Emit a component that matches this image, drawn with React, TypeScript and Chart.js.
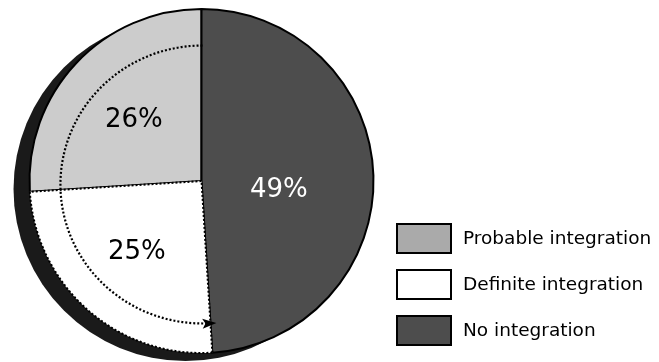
import React, { useEffect, useRef } from 'react';
import { Chart, registerables } from 'chart.js';

Chart.register(...registerables);

// ---- data (legend order) ----
const categories = ['Probable integration', 'Definite integration', 'No integration'];
const values = [26, 25, 49];
const sliceColors = ['#cccccc', '#ffffff', '#4d4d4d'];
const legendColors = ['#aaaaaa', '#ffffff', '#4d4d4d'];
const labelColors = ['#000000', '#000000', '#ffffff'];
// order in which slices are drawn clockwise, starting with the grey one
const drawOrder = [0, 2, 1];

const total = values.reduce((a, b) => a + b, 0);
const rotation = -(values[0] / total) * 360;

// ---- styling helpers (not data) ----
const labelRadius = [0.54, 0.56, 0.45];
const labelNudge: [number, number][] = [[0, 0], [-1, -4], [0, 8.5]];
const FONT = '"DejaVu Sans", Verdana, sans-serif';

const decorPlugin = {
  id: 'decor',
  beforeDatasetsDraw(chart: any) {
    const ctx = chart.ctx;
    const el = chart.getDatasetMeta(0).data[0];
    const { x, y, outerRadius } = el.getProps(['x', 'y', 'outerRadius'], true);
    ctx.save();
    ctx.fillStyle = '#1a1a1a';
    ctx.beginPath();
    ctx.arc(x - 16, y + 8, outerRadius, 0, Math.PI * 2);
    ctx.fill();
    ctx.restore();
  },
  afterDatasetsDraw(chart: any) {
    const ctx = chart.ctx;
    const meta = chart.getDatasetMeta(0);
    const noIdx = drawOrder.indexOf(2);
    const dark = meta.data[noIdx];
    const { x, y, outerRadius, startAngle, endAngle } = dark.getProps(
      ['x', 'y', 'outerRadius', 'startAngle', 'endAngle'], true);

    // dotted arc with arrow
    const cx = x + 1, cy = y + 3.5;
    const rx = outerRadius * 0.826, ry = outerRadius * 0.808;
    ctx.save();
    ctx.strokeStyle = '#000';
    ctx.lineWidth = 2.2;
    ctx.setLineDash([2, 2]);
    ctx.beginPath();
    ctx.ellipse(cx, cy, rx, ry, 0, startAngle, endAngle, true);
    ctx.stroke();
    ctx.setLineDash([]);
    const ex = cx + rx * Math.cos(endAngle);
    const ey = cy + ry * Math.sin(endAngle);
    let dx = rx * Math.sin(endAngle), dy = -ry * Math.cos(endAngle);
    const len = Math.hypot(dx, dy);
    dx /= len; dy /= len;
    const tx = ex + 5 * dx, ty = ey + 5 * dy;
    const bx = tx - 14 * dx, by = ty - 14 * dy;
    const nx = -dy, ny = dx;
    ctx.fillStyle = '#000';
    ctx.beginPath();
    ctx.moveTo(tx, ty);
    ctx.lineTo(bx + 5 * nx, by + 5 * ny);
    ctx.lineTo(bx + 3 * dx, by + 3 * dy);
    ctx.lineTo(bx - 5 * nx, by - 5 * ny);
    ctx.closePath();
    ctx.fill();

    // percentage labels
    ctx.font = `26px ${FONT}`;
    ctx.textAlign = 'center';
    ctx.textBaseline = 'alphabetic';
    meta.data.forEach((arc: any, i: number) => {
      const cat = drawOrder[i];
      const p = arc.getProps(['x', 'y', 'outerRadius', 'startAngle', 'endAngle'], true);
      const mid = (p.startAngle + p.endAngle) / 2;
      const r = p.outerRadius * labelRadius[cat];
      const lx = p.x + Math.cos(mid) * r + labelNudge[cat][0];
      const ly = p.y + Math.sin(mid) * r + labelNudge[cat][1];
      ctx.fillStyle = labelColors[cat];
      ctx.fillText(`${values[cat]}%`, lx, ly + 9.5);
    });
    ctx.restore();
  },
  afterDraw(chart: any) {
    const ctx = chart.ctx;
    const x0 = 397, y0 = 224, w = 54, h = 29, step = 46;
    ctx.save();
    ctx.font = `18.5px ${FONT}`;
    ctx.textBaseline = 'middle';
    ctx.textAlign = 'left';
    categories.forEach((c, i) => {
      const y = y0 + i * step;
      ctx.fillStyle = legendColors[i];
      ctx.fillRect(x0, y, w, h);
      ctx.strokeStyle = '#000';
      ctx.lineWidth = 2;
      ctx.strokeRect(x0, y, w, h);
      ctx.fillStyle = '#000';
      ctx.fillText(c, x0 + 66, y + h / 2 + 1);
    });
    ctx.restore();
  },
};

export default function App() {
  const ref = useRef<HTMLCanvasElement>(null);
  useEffect(() => {
    if (!ref.current) return;
    const chart = new Chart(ref.current, {
      type: 'pie',
      data: {
        labels: drawOrder.map((i) => categories[i]),
        datasets: [
          {
            data: drawOrder.map((i) => values[i]),
            backgroundColor: drawOrder.map((i) => sliceColors[i]),
            borderColor: '#000000',
            borderWidth: 2,
            borderDash: (c: any) => (drawOrder[c.dataIndex] === 1 ? [2, 2] : []),
          } as any,
        ],
      },
      options: {
        responsive: false,
        animation: false,
        rotation,
        radius: 172,
        events: [],
        layout: { padding: { left: 0, right: 256, top: 0, bottom: 0 } },
        plugins: { legend: { display: false }, tooltip: { enabled: false } },
      } as any,
      plugins: [decorPlugin],
    });
    return () => chart.destroy();
  }, []);
  return (
    <div style={{ position: 'absolute', left: 0, top: 0, width: 659, height: 362, background: '#fff' }}>
      <canvas ref={ref} width={659} height={362} style={{ display: 'block' }} />
    </div>
  );
}
